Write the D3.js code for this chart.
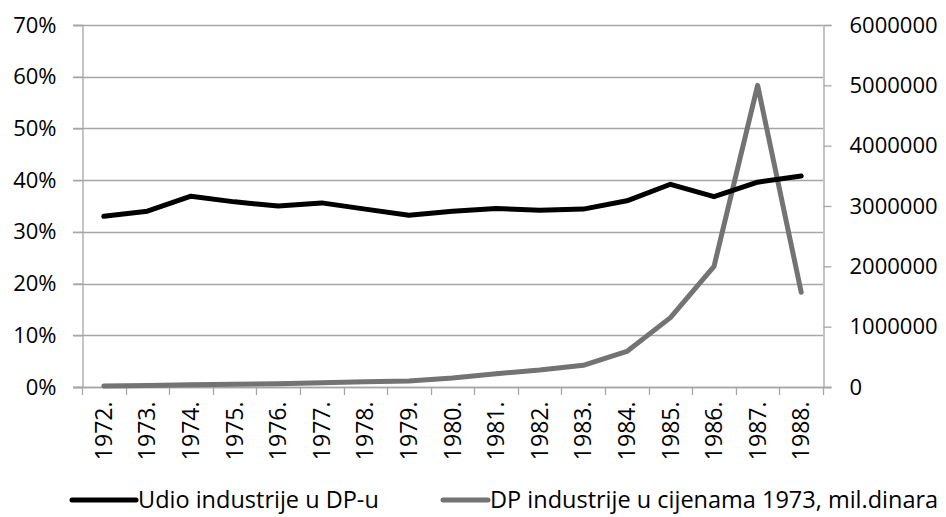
<!DOCTYPE html>
<html>
<head>
<meta charset="utf-8">
<script src="https://cdn.jsdelivr.net/npm/d3@7"></script>
<style>
  body { margin: 0; background: #fff; }
  text { font-family: "Open Sans", sans-serif; fill: #000; }
</style>
</head>
<body>
<svg id="chart"></svg>
<script>
var years = ["1972.", "1973.", "1974.", "1975.", "1976.", "1977.", "1978.", "1979.", "1980.",
             "1981.", "1982.", "1983.", "1984.", "1985.", "1986.", "1987.", "1988."];
// udio industrije u DP-u (lijeva os)
var udio = [0.330, 0.340, 0.369, 0.358, 0.350, 0.356, 0.344, 0.332, 0.340,
            0.345, 0.342, 0.344, 0.360, 0.392, 0.368, 0.396, 0.408];
// DP industrije u cijenama 1973, mil. dinara (desna os)
var dp = [18000, 25000, 38000, 45000, 55000, 70000, 85000, 100000, 150000,
          220000, 280000, 360000, 590000, 1150000, 2000000, 5000000, 1570000];
var leftTicks = [0, 0.1, 0.2, 0.3, 0.4, 0.5, 0.6, 0.7];
var rightTicks = [0, 1000000, 2000000, 3000000, 4000000, 5000000, 6000000];
var seriesNames = ["Udio industrije u DP-u", "DP industrije u cijenama 1973, mil.dinara"];

var width = 946, height = 517;
var plotLeft = 82, plotRight = 823, plotTop = 25, plotBottom = 387;
var gridColor = "#a6a6a6";

var svg = d3.select("#chart").attr("width", width).attr("height", height);

var x = d3.scaleBand().domain(years).range([plotLeft, plotRight]);
var yL = d3.scaleLinear().domain([0, 0.7]).range([plotBottom, plotTop]);
var yR = d3.scaleLinear().domain([0, 6000000]).range([plotBottom, plotTop]);

// gridlines
svg.append("g")
    .selectAll("line")
    .data(leftTicks)
    .enter().append("line")
    .attr("x1", plotLeft - 9).attr("x2", plotRight)
    .attr("y1", d => Math.round(yL(d)) + 0.5).attr("y2", d => Math.round(yL(d)) + 0.5)
    .style("stroke", gridColor).style("stroke-width", 1.3);

// left axis
var gL = svg.append("g")
    .attr("transform", "translate(" + (plotLeft + 0.5) + ",0)")
    .call(d3.axisLeft(yL).tickValues(leftTicks).tickFormat(d3.format(".0%")).tickSize(9).tickPadding(17));
gL.select(".domain").style("stroke", gridColor).style("stroke-width", 1.3);
gL.selectAll(".tick line").style("stroke", gridColor).style("stroke-width", 1.3);
gL.selectAll("text").style("font-size", "22px").style("font-family", "Open Sans");

// right axis
var gR = svg.append("g")
    .attr("transform", "translate(" + (plotRight + 0.5) + ",0)")
    .call(d3.axisRight(yR).tickValues(rightTicks).tickFormat(d3.format("d")).tickSize(8).tickPadding(18));
gR.select(".domain").style("stroke", gridColor).style("stroke-width", 1.3);
gR.selectAll(".tick line").style("stroke", gridColor).style("stroke-width", 1.3);
gR.selectAll("text").style("font-size", "22px").style("font-family", "Open Sans");

// x axis
var gX = svg.append("g")
    .attr("transform", "translate(0," + (plotBottom + 0.5) + ")")
    .call(d3.axisBottom(x).tickSize(0).tickPadding(0));
gX.select(".domain").remove();
svg.append("line")
    .attr("x1", plotLeft - 9).attr("x2", plotRight + 8)
    .attr("y1", plotBottom + 0.5).attr("y2", plotBottom + 0.5)
    .style("stroke", gridColor).style("stroke-width", 1.3);
svg.append("g")
    .selectAll("line")
    .data(years.concat(["end"]))
    .enter().append("line")
    .attr("x1", (d, i) => Math.round(plotLeft + i * x.step()) + 0.5)
    .attr("x2", (d, i) => Math.round(plotLeft + i * x.step()) + 0.5)
    .attr("y1", plotBottom).attr("y2", plotBottom + 8)
    .style("stroke", gridColor).style("stroke-width", 1.3);
gX.selectAll("text")
    .style("font-size", "23px").style("font-family", "Open Sans")
    .attr("text-anchor", "end")
    .attr("dy", "0.35em")
    .attr("transform", "translate(0,14) rotate(-90)")
    .attr("x", 0).attr("y", 0);

// lines
var lineL = d3.line()
    .x((d, i) => x(years[i]) + x.bandwidth() / 2)
    .y(d => yL(d));
var lineR = d3.line()
    .x((d, i) => x(years[i]) + x.bandwidth() / 2)
    .y(d => yR(d));

svg.append("path")
    .datum(dp)
    .attr("d", lineR)
    .style("fill", "none").style("stroke", "#737373").style("stroke-width", 5)
    .style("stroke-linejoin", "round").style("stroke-linecap", "round");

svg.append("path")
    .datum(udio)
    .attr("d", lineL)
    .style("fill", "none").style("stroke", "#000").style("stroke-width", 5)
    .style("stroke-linejoin", "round").style("stroke-linecap", "round");

// legend
var legend = svg.append("g").attr("transform", "translate(0,500)");
var legendItems = [
    { name: seriesNames[0], color: "#000", x: 72 },
    { name: seriesNames[1], color: "#737373", x: 443 }
];
var li = legend.selectAll("g")
    .data(legendItems)
    .enter().append("g")
    .attr("transform", d => "translate(" + d.x + ",0)");
li.append("line")
    .attr("x1", 0).attr("x2", d => d.x < 100 ? 64 : 45).attr("y1", 0).attr("y2", 0)
    .style("stroke", d => d.color).style("stroke-width", 5).style("stroke-linecap", "round");
li.append("text")
    .attr("x", d => d.x < 100 ? 66 : 47).attr("dy", "0.35em")
    .style("font-size", "23.5px")
    .text(d => d.name);
</script>
</body>
</html>
